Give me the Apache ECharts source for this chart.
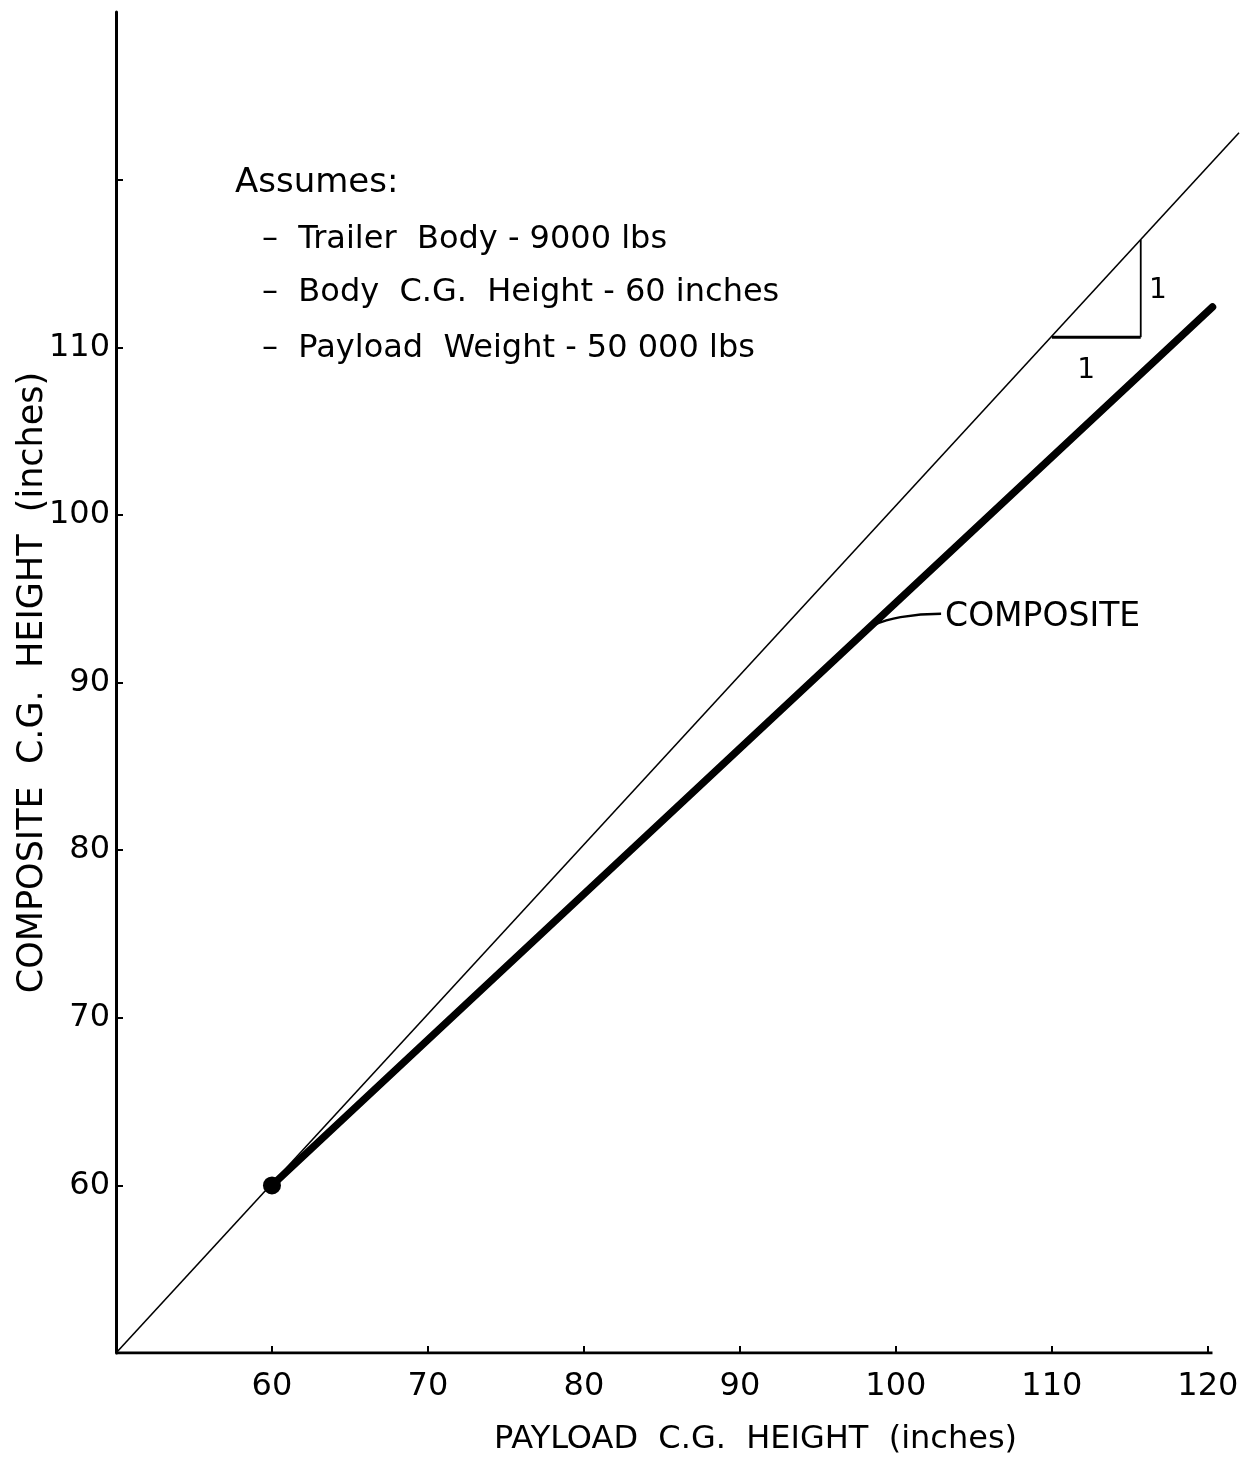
<!DOCTYPE html>
<html>
<head>
<meta charset="utf-8">
<script src="https://cdn.jsdelivr.net/npm/echarts@6/dist/echarts.min.js"></script>
<style>
html,body{margin:0;padding:0;background:#fff;}
#chart{width:1248px;height:1457px;}
</style>
</head>
<body>
<div id="chart"></div>
<script>
// ---- data ----
const xTicks = [60, 70, 80, 90, 100, 110, 120];
const xLabels = [60, 70, 80, 90, 100, 110, 120];
const yTicks = [60, 70, 80, 90, 100, 110, 120];
const yLabels = [60, 70, 80, 90, 100, 110];
const xAxisBaseline = [[50, 50], [120.3, 50]];        // drawn x axis, ends just past 120
const unitLine = [[50, 50], [122, 122.8]];            // thin 1:1 reference line
const compositeLine = [[60, 60], [120.3, 112.4]];     // thick composite line
const basePoint = [[60, 60]];                          // body C.G. point
const slopeRun = [[110, 110.6], [115.7, 110.6]];
const slopeRise = [[115.7, 110.6], [115.7, 116.4]];
const slopeLabels = [[112.2, 108.6, '1'], [116.8, 113.4, '1']];
const leaderLine = [[98.5, 93.4], [100.3, 93.9], [102.9, 94.1]];
const compositeLabel = [[102.9, 94.1, 'COMPOSITE']];
const assumptionsTitle = 'Assumes:';
const assumptions = [
  '–  Trailer  Body - 9000 lbs',
  '–  Body  C.G.  Height - 60 inches',
  '–  Payload  Weight - 50 000 lbs'
];
const xTitle = 'PAYLOAD  C.G.  HEIGHT  (inches)';
const yTitle = 'COMPOSITE  C.G.  HEIGHT  (inches)';

const FONT = 'DejaVu Sans';
const chart = echarts.init(document.getElementById('chart'), null, {renderer: 'canvas'});

const option = {
  backgroundColor: '#ffffff',
  animation: false,
  textStyle: {fontFamily: FONT, color: '#000'},
  grid: {left: 116, right: 9, top: 12, bottom: 104, containLabel: false, outerBoundsMode: 'none'},
  xAxis: {
    type: 'value', min: 50, max: 122, interval: 10,
    name: xTitle, nameLocation: 'middle', nameGap: 71, nameMoveOverlap: false,
    nameTextStyle: {fontFamily: FONT, fontSize: 32, color: '#000', padding: [0, 0, 0, 156]},
    axisLine: {show: false},
    axisTick: {show: true, inside: true, length: 7, customValues: xTicks, lineStyle: {color: '#000', width: 2}},
    axisLabel: {customValues: xLabels, fontFamily: FONT, fontSize: 32, color: '#000', margin: 18},
    splitLine: {show: false}
  },
  yAxis: {
    type: 'value', min: 50, max: 130, interval: 10,
    name: yTitle, nameLocation: 'middle', nameGap: 66, nameRotate: 90, nameMoveOverlap: false,
    nameTextStyle: {fontFamily: FONT, fontSize: 35, color: '#000'},
    axisLine: {show: true, lineStyle: {color: '#000', width: 3}},
    axisTick: {show: true, inside: true, length: 7, customValues: yTicks, lineStyle: {color: '#000', width: 2}},
    axisLabel: {customValues: yLabels, fontFamily: FONT, fontSize: 32, color: '#000', margin: 6,
      verticalAlign: 'middle', padding: [0, 0, 8, 0]},
    splitLine: {show: false}
  },
  graphic: [{
    type: 'group', left: 235, top: 166,
    children: [
      {type: 'text', left: 0, top: 0, style: {text: assumptionsTitle, font: '34px "' + FONT + '"', fill: '#000'}},
      {type: 'text', left: 27, top: 58, style: {text: assumptions[0], font: '32px "' + FONT + '"', fill: '#000'}},
      {type: 'text', left: 27, top: 111, style: {text: assumptions[1], font: '32px "' + FONT + '"', fill: '#000'}},
      {type: 'text', left: 27, top: 167, style: {text: assumptions[2], font: '32px "' + FONT + '"', fill: '#000'}}
    ]
  }],
  series: [
    {
      name: 'xAxisLine', type: 'line', data: xAxisBaseline, symbol: 'none',
      lineStyle: {color: '#000', width: 3}, z: 5, silent: true
    },
    {
      name: 'unit', type: 'line', data: unitLine, symbol: 'none',
      lineStyle: {color: '#000', width: 1.6}, z: 2, silent: true
    },
    {
      name: 'composite', type: 'line', data: compositeLine, symbol: 'none',
      lineStyle: {color: '#000', width: 7.5, cap: 'round'}, z: 3, silent: true
    },
    {
      name: 'point', type: 'scatter', data: basePoint, symbol: 'circle', symbolSize: 18,
      itemStyle: {color: '#000', opacity: 1}, z: 4, silent: true
    },
    {
      name: 'slopeRun', type: 'line', data: slopeRun, symbol: 'none',
      lineStyle: {color: '#000', width: 3}, z: 2, silent: true
    },
    {
      name: 'slopeRise', type: 'line', data: slopeRise, symbol: 'none',
      lineStyle: {color: '#000', width: 1.8}, z: 2, silent: true
    },
    {
      name: 'slopeLabels', type: 'scatter', data: slopeLabels, symbolSize: 0,
      itemStyle: {opacity: 1},
      label: {show: true, position: 'inside', formatter: p => p.value[2], fontFamily: FONT, fontSize: 28, color: '#000'},
      silent: true
    },
    {
      name: 'leader', type: 'line', data: leaderLine, smooth: true, symbol: 'none',
      lineStyle: {color: '#000', width: 2.5}, z: 2, silent: true
    },
    {
      name: 'compositeLabel', type: 'scatter', data: compositeLabel, symbolSize: 0,
      itemStyle: {opacity: 1},
      label: {show: true, position: 'right', distance: 4, offset: [0, 4], formatter: p => p.value[2], fontFamily: FONT, fontSize: 33, color: '#000'},
      silent: true
    }
  ]
};
chart.setOption(option);
</script>
</body>
</html>
